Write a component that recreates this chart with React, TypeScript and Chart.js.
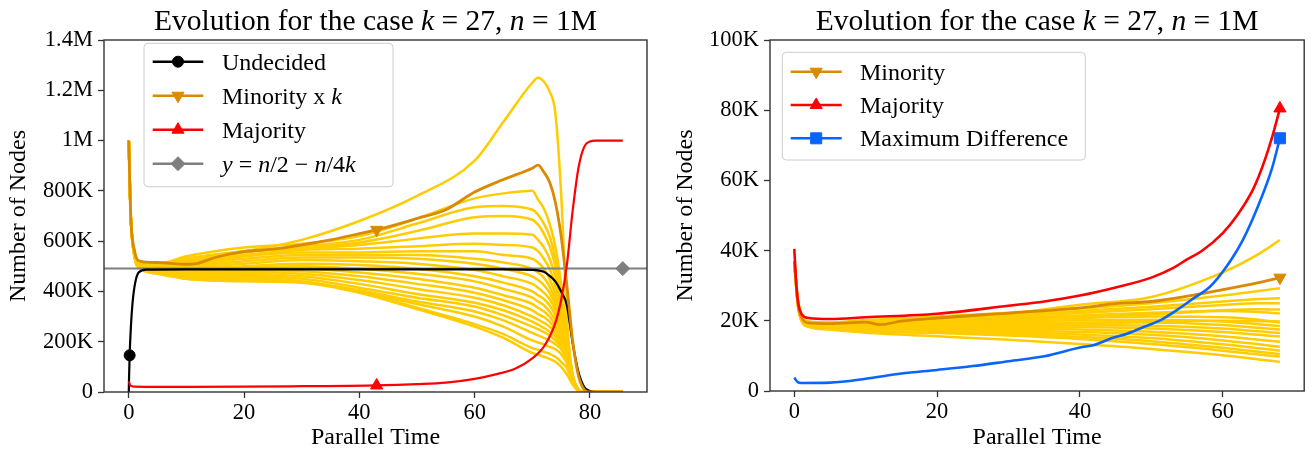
import React, { useEffect, useRef } from 'react';
import { Chart, registerables } from 'chart.js';

Chart.register(...registerables);

// ---------------- DATA (values in thousands of nodes) ----------------
// Left panel: tick values and labels
const leftXTicks = [0, 20, 40, 60, 80];
const leftYTicks = [0, 200, 400, 600, 800, 1000, 1200, 1400];
const leftYTickLabels = ['0', '200K', '400K', '600K', '800K', '1M', '1.2M', '1.4M'];

// Undecided (black)
const leftUndecidedT = [0, 0.05, 0.15, 0.3, 0.6, 1, 1.7, 3, 10, 30, 50, 65, 70, 72, 73, 74, 75, 76, 77, 78, 79, 80, 81, 85.7];
const leftUndecidedV = [0, 60, 146, 230, 340, 420, 475, 487, 488, 488, 488, 488, 486, 478, 462, 440, 400, 345, 195, 80, 20, 4, 0, 0];
const leftUndecidedMarkerT = 0.15;

// Minority x k (dark orange)
const leftMinorityT = [0, 0.3, 1, 2, 5, 10, 12, 15, 20, 25, 30, 35, 40, 43, 50, 55, 60, 65, 70, 71, 72, 73, 74, 75, 76, 77, 78, 79, 80, 85.7];
const leftMinorityV = [1000, 720, 560, 520, 515, 508, 512, 535, 558, 568, 585, 605, 630, 645, 690, 725, 795, 845, 890, 902, 875, 835, 755, 620, 425, 205, 65, 10, 0, 0];
const leftMinorityMarkerT = 43;

// Majority (red)
const leftMajorityT = [0, 0.3, 1, 5, 10, 20, 30, 43, 50, 55, 60, 64, 67, 70, 72, 74, 75, 76, 77, 78, 79, 80, 81, 85.7];
const leftMajorityV = [42, 25, 21, 20, 20, 21, 23, 26, 31, 37, 52, 72, 92, 134, 180, 275, 365, 505, 720, 890, 975, 996, 1000, 1000];
const leftMajorityMarkerT = 43;

// y = n/2 - n/4k guide (grey)
const leftGuideT = [-10, 85.7, 100];
const leftGuideV = [490.7, 490.7, 490.7];
const leftGuideMarkerT = 85.7;

// Individual minority runs x k (yellow)
const leftRunT = [0, 0.3, 1, 2, 5, 10, 20, 30, 40, 50, 60, 65, 70, 71, 72, 73, 74, 75, 76, 77, 78, 79, 80, 85.7];
const leftRunA = [1000, 720, 555, 515, 505, 530, 560, 605, 680, 780, 920, 1075, 1230, 1250, 1235, 1195, 1110, 790, 300, 60, 5, 0, 0, 0];
const leftRunB = [1000, 720, 560, 520, 510, 540, 575, 590, 620, 690, 770, 790, 800, 765, 730, 670, 580, 430, 230, 70, 10, 0, 0, 0];
const leftRunC = [1000, 720, 558, 515, 505, 525, 560, 580, 605, 670, 735, 740, 725, 705, 670, 620, 530, 400, 220, 70, 10, 0, 0, 0];
const leftRunD = [1000, 720, 556, 510, 500, 520, 555, 575, 595, 640, 695, 700, 685, 665, 630, 580, 500, 380, 210, 65, 10, 0, 0, 0];
const leftRunE = [1000, 720, 557, 512, 505, 530, 560, 570, 585, 610, 630, 630, 625, 605, 575, 530, 460, 350, 200, 60, 10, 0, 0, 0];
const leftRunF = [1000, 720, 553, 508, 500, 515, 545, 565, 570, 580, 590, 585, 575, 560, 530, 490, 420, 320, 190, 60, 10, 0, 0, 0];
const leftRunG = [1000, 720, 550, 505, 498, 510, 540, 555, 555, 560, 560, 545, 530, 515, 490, 450, 390, 300, 180, 60, 8, 0, 0, 0];
const leftRunH = [1000, 720, 550, 505, 495, 505, 530, 545, 545, 545, 530, 515, 490, 475, 455, 420, 365, 285, 175, 60, 8, 0, 0, 0];
const leftRunI = [1000, 720, 550, 505, 495, 500, 520, 535, 535, 530, 510, 490, 460, 445, 425, 395, 345, 275, 170, 55, 8, 0, 0, 0];
const leftRunJ = [1000, 720, 548, 502, 492, 495, 510, 525, 520, 510, 485, 460, 430, 415, 395, 370, 325, 260, 165, 55, 8, 0, 0, 0];
const leftRunK = [1000, 720, 546, 500, 490, 490, 500, 510, 505, 490, 460, 435, 400, 385, 370, 345, 305, 245, 160, 55, 8, 0, 0, 0];
const leftRunL = [1000, 720, 546, 500, 488, 485, 495, 500, 490, 470, 440, 410, 375, 360, 345, 320, 285, 235, 155, 55, 8, 0, 0, 0];
const leftRunM = [1000, 720, 544, 498, 485, 480, 490, 490, 475, 450, 415, 385, 350, 335, 320, 300, 265, 220, 150, 55, 8, 0, 0, 0];
const leftRunN = [1000, 720, 544, 498, 485, 478, 485, 480, 460, 430, 395, 365, 325, 310, 298, 280, 250, 210, 145, 50, 8, 0, 0, 0];
const leftRunO = [1000, 720, 542, 496, 483, 475, 478, 470, 445, 410, 375, 345, 300, 288, 275, 260, 235, 200, 140, 50, 8, 0, 0, 0];
const leftRunP = [1000, 720, 542, 496, 482, 470, 470, 460, 430, 390, 355, 325, 280, 268, 255, 240, 220, 190, 135, 50, 8, 0, 0, 0];
const leftRunQ = [1000, 720, 540, 495, 480, 465, 462, 450, 415, 375, 340, 305, 260, 250, 238, 225, 205, 180, 130, 50, 8, 0, 0, 0];
const leftRunR = [1000, 720, 540, 495, 480, 460, 455, 440, 405, 360, 320, 285, 235, 225, 215, 205, 190, 170, 125, 50, 8, 0, 0, 0];
const leftRunS = [1000, 720, 538, 494, 478, 455, 448, 440, 400, 350, 300, 260, 205, 197, 190, 180, 170, 150, 115, 45, 8, 0, 0, 0];
const leftRunTT = [1000, 720, 538, 493, 476, 450, 442, 437, 398, 335, 270, 230, 175, 168, 160, 152, 140, 120, 95, 40, 6, 0, 0, 0];
const leftRunU = [1000, 720, 536, 490, 470, 450, 440, 435, 395, 330, 260, 215, 155, 148, 140, 132, 120, 100, 70, 30, 5, 0, 0, 0];
const leftRuns = [leftRunA, leftRunB, leftRunC, leftRunD, leftRunE, leftRunF, leftRunG, leftRunH, leftRunI, leftRunJ, leftRunK,
  leftRunL, leftRunM, leftRunN, leftRunO, leftRunP, leftRunQ, leftRunR, leftRunS, leftRunTT, leftRunU];

// Right panel
const rightXTicks = [0, 20, 40, 60];
const rightYTicks = [0, 20, 40, 60, 80, 100];
const rightYTickLabels = ['0', '20K', '40K', '60K', '80K', '100K'];

const rightMinorityT = [0, 0.5, 1, 2, 5, 10, 12, 15, 20, 30, 40, 45, 50, 55, 60, 65, 68];
const rightMinorityV = [37, 25, 21, 19.4, 19.2, 19.6, 18.9, 19.9, 20.8, 22.2, 23.7, 24.9, 25.5, 27, 28.9, 30.9, 32.3];

const rightMajorityT = [0, 0.3, 0.6, 1, 2, 5, 10, 20, 30, 35, 40, 45, 50, 53, 55, 57, 60, 62, 64, 65, 66, 67, 68];
const rightMajorityV = [40.5, 30, 24.5, 22, 20.8, 20.5, 21, 22, 24.3, 25.5, 27.2, 29.5, 32.3, 35, 37.5, 39.8, 45, 50, 56.5, 61, 66.5, 73, 80.5];

const rightDiffT = [0, 0.5, 1, 5, 10, 15, 20, 25, 30, 35, 40, 42, 44.4, 46.7, 49, 51.3, 53.6, 55.9, 58.2, 60.5, 62.8, 65.1, 66.9, 68];
const rightDiffV = [3.8, 2.5, 2.3, 2.4, 3.5, 5, 6, 7.1, 8.5, 9.9, 12.4, 13.1, 15, 16.4, 18.3, 20.2, 23.1, 26.4, 29.7, 35.4, 43, 53.5, 63.5, 72];

const rightRunT = [0, 0.5, 1, 2, 5, 10, 20, 30, 40, 50, 60, 65, 68];
const rightRun01 = [37, 26, 21.8, 19.8, 19.5, 20.0, 20.8, 22.0, 24.6, 26.8, 33.8, 39.0, 43.0];
const rightRun02 = [37, 26, 21.6, 19.6, 19.5, 20.2, 21.2, 22.3, 23.5, 25.0, 27.2, 28.5, 29.3];
const rightRun03 = [37, 25.8, 21.4, 19.4, 19.2, 19.8, 20.8, 21.8, 22.8, 24.0, 25.5, 26.2, 26.4];
const rightRun04 = [37, 25.6, 21.2, 19.3, 19.0, 19.5, 20.5, 21.3, 22.2, 23.3, 24.5, 25.0, 25.0];
const rightRun05 = [37, 25.5, 21.1, 19.2, 18.8, 19.2, 20.0, 20.8, 21.5, 22.3, 22.8, 22.5, 22.1];
const rightRun06 = [37, 25.4, 21.0, 19.1, 18.6, 18.9, 19.6, 20.2, 20.8, 21.2, 21.0, 20.3, 19.5];
const rightRun07 = [37, 25.3, 20.9, 19.0, 18.5, 18.6, 19.2, 19.7, 20.2, 20.3, 19.8, 19.0, 18.5];
const rightRun08 = [37, 25.2, 20.8, 18.9, 18.4, 18.4, 18.9, 19.2, 19.5, 19.5, 18.8, 18.0, 17.5];
const rightRun09 = [37, 25.1, 20.7, 18.8, 18.3, 18.2, 18.5, 18.7, 18.8, 18.6, 17.8, 17.0, 16.5];
const rightRun10 = [37, 25.0, 20.6, 18.7, 18.2, 18.0, 18.2, 18.3, 18.2, 17.8, 16.8, 16.0, 15.5];
const rightRun11 = [37, 24.9, 20.5, 18.6, 18.1, 17.8, 17.8, 17.8, 17.5, 16.9, 15.6, 14.6, 14.0];
const rightRun12 = [37, 24.8, 20.4, 18.6, 18.0, 17.6, 17.5, 17.3, 16.8, 16.0, 14.4, 13.3, 12.6];
const rightRun13 = [37, 24.7, 20.3, 18.5, 17.9, 17.4, 17.2, 16.8, 16.1, 15.1, 13.3, 12.2, 11.5];
const rightRun14 = [37, 24.6, 20.2, 18.4, 17.8, 17.2, 16.8, 16.3, 15.4, 14.2, 12.3, 11.2, 10.5];
const rightRun15 = [37, 24.5, 20.1, 18.4, 17.7, 17.0, 16.5, 15.8, 14.8, 13.4, 11.5, 10.4, 9.8];
const rightRun16 = [37, 24.4, 20.0, 18.3, 17.5, 16.6, 15.6, 14.6, 13.4, 12.0, 10.2, 9.0, 8.3];
const rightRun17 = [37, 25.2, 20.9, 18.5, 18.0, 17.9, 18.4, 18.9, 19.3, 19.8, 20.0, 19.9, 19.8];
const rightRun18 = [37, 25.5, 21.2, 19.0, 18.6, 18.8, 19.5, 20.3, 21.0, 21.8, 23.0, 23.3, 23.2];
const rightRuns = [rightRun01, rightRun02, rightRun03, rightRun04, rightRun05, rightRun06, rightRun07, rightRun08, rightRun09,
  rightRun10, rightRun11, rightRun12, rightRun13, rightRun14, rightRun15, rightRun16, rightRun17, rightRun18];

// ---------------- STYLE ----------------
const FONT = '"Liberation Serif", "Times New Roman", serif';
const C_UNDECIDED = '#000000';
const C_MINORITY = '#d98a00';
const C_MAJORITY = '#ff0000';
const C_GUIDE = '#7f7f7f';
const C_RUN = '#ffcc00';
const C_DIFF = '#0a64ff';
const C_SPINE = '#333333';
const TICK_SIZE = 22.5;
const AXIS_TITLE_SIZE = 24;
const LEGEND_SIZE = 24;
const TITLE_SIZE = 29.5;

type Seg = [string, boolean];
type MarkerStyle = 'circle' | 'triUp' | 'triDown' | 'diamond' | 'square';

function drawRich(ctx: CanvasRenderingContext2D, segs: Seg[], x: number, y: number, size: number, align: 'left' | 'center') {
  const fN = `${size}px ${FONT}`;
  const fI = `italic ${size}px ${FONT}`;
  let total = 0;
  for (const [t, it] of segs) { ctx.font = it ? fI : fN; total += ctx.measureText(t).width; }
  let cx = align === 'center' ? x - total / 2 : x;
  ctx.textAlign = 'left';
  ctx.textBaseline = 'alphabetic';
  for (const [t, it] of segs) {
    ctx.font = it ? fI : fN;
    ctx.fillText(t, cx, y);
    cx += ctx.measureText(t).width;
  }
}

function drawMarker(ctx: CanvasRenderingContext2D, style: MarkerStyle, x: number, y: number, r: number, color: string) {
  ctx.save();
  ctx.fillStyle = color;
  ctx.strokeStyle = color;
  ctx.lineWidth = 1;
  ctx.beginPath();
  if (style === 'circle') ctx.arc(x, y, r, 0, Math.PI * 2);
  else if (style === 'triUp') { ctx.moveTo(x, y - r); ctx.lineTo(x + r * 0.866, y + r * 0.5); ctx.lineTo(x - r * 0.866, y + r * 0.5); ctx.closePath(); }
  else if (style === 'triDown') { ctx.moveTo(x, y + r); ctx.lineTo(x + r * 0.866, y - r * 0.5); ctx.lineTo(x - r * 0.866, y - r * 0.5); ctx.closePath(); }
  else if (style === 'diamond') { ctx.moveTo(x, y - r); ctx.lineTo(x + r, y); ctx.lineTo(x, y + r); ctx.lineTo(x - r, y); ctx.closePath(); }
  else { const s = r * 0.7071; ctx.rect(x - s, y - s, 2 * s, 2 * s); }
  ctx.fill();
  ctx.stroke();
  ctx.restore();
}

const chartStyleFor: Record<MarkerStyle, { pointStyle: string; rotation: number }> = {
  circle: { pointStyle: 'circle', rotation: 0 },
  triUp: { pointStyle: 'triangle', rotation: 0 },
  triDown: { pointStyle: 'triangle', rotation: 180 },
  diamond: { pointStyle: 'rectRot', rotation: 0 },
  square: { pointStyle: 'rect', rotation: 0 },
};

function lineDs(T: number[], V: number[], color: string, width: number, order: number,
  marker?: { t: number; style: MarkerStyle; r: number }) {
  const mi = marker ? T.indexOf(marker.t) : -1;
  const st = marker ? chartStyleFor[marker.style] : chartStyleFor.circle;
  return {
    type: 'line' as const,
    data: T.map((t, i) => ({ x: t, y: V[i] })),
    borderColor: color,
    backgroundColor: color,
    borderWidth: width,
    pointRadius: (c: any) => (c.dataIndex === mi ? (marker ? marker.r : 0) : 0),
    pointStyle: st.pointStyle,
    pointRotation: st.rotation,
    pointBackgroundColor: color,
    pointBorderColor: color,
    pointBorderWidth: 1,
    cubicInterpolationMode: 'monotone' as const,
    borderJoinStyle: 'round' as const,
    fill: false,
    order,
  };
}

interface LegendItem { label: Seg[]; color: string; width: number; marker: MarkerStyle; r: number; }
interface LegendSpec { dx: number; dy: number; w: number; h: number; firstRow: number; rowGap: number; hx0: number; hx1: number; textX: number; size: number; shift: number; items: LegendItem[]; }

function decoPlugin(title: Seg[], legend: LegendSpec) {
  return {
    id: 'deco',
    afterDraw(chart: any) {
      const ctx: CanvasRenderingContext2D = chart.ctx;
      const ca = chart.chartArea;
      ctx.save();
      // spines
      ctx.strokeStyle = C_SPINE;
      ctx.lineWidth = 1.4;
      ctx.strokeRect(ca.left, ca.top, ca.right - ca.left, ca.bottom - ca.top);
      // legend box
      const bx = ca.left + legend.dx, by = ca.top + legend.dy, r = 4;
      ctx.beginPath();
      ctx.moveTo(bx + r, by);
      ctx.lineTo(bx + legend.w - r, by);
      ctx.quadraticCurveTo(bx + legend.w, by, bx + legend.w, by + r);
      ctx.lineTo(bx + legend.w, by + legend.h - r);
      ctx.quadraticCurveTo(bx + legend.w, by + legend.h, bx + legend.w - r, by + legend.h);
      ctx.lineTo(bx + r, by + legend.h);
      ctx.quadraticCurveTo(bx, by + legend.h, bx, by + legend.h - r);
      ctx.lineTo(bx, by + r);
      ctx.quadraticCurveTo(bx, by, bx + r, by);
      ctx.closePath();
      ctx.fillStyle = 'rgba(255,255,255,0.8)';
      ctx.fill();
      ctx.strokeStyle = '#cccccc';
      ctx.lineWidth = 1;
      ctx.stroke();
      legend.items.forEach((it, i) => {
        const cy = by + legend.firstRow + i * legend.rowGap;
        ctx.strokeStyle = it.color;
        ctx.lineWidth = it.width;
        ctx.beginPath();
        ctx.moveTo(bx + legend.hx0, cy);
        ctx.lineTo(bx + legend.hx1, cy);
        ctx.stroke();
        drawMarker(ctx, it.marker, bx + (legend.hx0 + legend.hx1) / 2, cy, it.r, it.color);
        ctx.fillStyle = '#000';
        drawRich(ctx, it.label, bx + legend.textX, cy + legend.shift, legend.size, 'left');
      });
      // title
      ctx.fillStyle = '#000';
      drawRich(ctx, title, (ca.left + ca.right) / 2, 29.5, TITLE_SIZE, 'center');
      ctx.restore();
    },
  };
}

function xScaleCfg(min: number, max: number, ticks: number[], height: number) {
  return {
    type: 'linear' as const,
    min, max,
    afterBuildTicks: (s: any) => { s.ticks = ticks.map((v) => ({ value: v })); },
    afterFit: (s: any) => { s.height = height; },
    grid: { display: true, drawOnChartArea: false, drawTicks: true, tickLength: 6, tickWidth: 1.3, tickColor: C_SPINE, color: C_SPINE },
    border: { display: false },
    ticks: { padding: 2, color: '#000', font: { family: FONT, size: TICK_SIZE }, maxRotation: 0, autoSkip: false, callback: (v: any) => String(v) },
    title: { display: true, text: 'Parallel Time', color: '#000', font: { family: FONT, size: AXIS_TITLE_SIZE }, padding: { top: 0, bottom: -1 } },
  };
}

function yScaleCfg(max: number, ticks: number[], labels: string[], width: number, titlePad: number) {
  return {
    type: 'linear' as const,
    min: 0, max,
    afterBuildTicks: (s: any) => { s.ticks = ticks.map((v) => ({ value: v })); },
    afterFit: (s: any) => { s.width = width; },
    grid: { display: true, drawOnChartArea: false, drawTicks: true, tickLength: 6, tickWidth: 1.3, tickColor: C_SPINE, color: C_SPINE },
    border: { display: false },
    ticks: { padding: 5, color: '#000', font: { family: FONT, size: TICK_SIZE }, autoSkip: false, callback: (v: any) => { const i = ticks.indexOf(v); return i >= 0 ? labels[i] : ''; } },
    title: { display: true, text: 'Number of Nodes', color: '#000', font: { family: FONT, size: AXIS_TITLE_SIZE }, padding: { top: titlePad, bottom: 0 } },
  };
}

const titleSegs: Seg[] = [['Evolution for the case ', false], ['k', true], [' = 27, ', false], ['n', true], [' = 1M', false]];

function leftConfig(): any {
  const datasets: any[] = [];
  leftRuns.forEach((run) => datasets.push(lineDs(leftRunT, run, C_RUN, 2.5, 10)));
  datasets.push(lineDs(leftGuideT, leftGuideV, C_GUIDE, 2, 6, { t: leftGuideMarkerT, style: 'diamond', r: 7 }));
  datasets.push(lineDs(leftUndecidedT, leftUndecidedV, C_UNDECIDED, 2.2, 5, { t: leftUndecidedMarkerT, style: 'circle', r: 5.5 }));
  datasets.push(lineDs(leftMinorityT, leftMinorityV, C_MINORITY, 2.8, 4, { t: leftMinorityMarkerT, style: 'triDown', r: 7 }));
  datasets.push(lineDs(leftMajorityT, leftMajorityV, C_MAJORITY, 2.2, 3, { t: leftMajorityMarkerT, style: 'triUp', r: 7 }));
  const legend: LegendSpec = {
    dx: 40, dy: 3.3, w: 249, h: 143.5, firstRow: 18.4, rowGap: 34, hx0: 8.7, hx1: 59.3, textX: 78, size: LEGEND_SIZE, shift: 8,
    items: [
      { label: [['Undecided', false]], color: C_UNDECIDED, width: 2.5, marker: 'circle', r: 5.5 },
      { label: [['Minority x ', false], ['k', true]], color: C_MINORITY, width: 2.5, marker: 'triDown', r: 7 },
      { label: [['Majority', false]], color: C_MAJORITY, width: 2.5, marker: 'triUp', r: 7 },
      { label: [['y', true], [' = ', false], ['n', true], ['/2 \u2212 ', false], ['n', true], ['/4', false], ['k', true]], color: C_GUIDE, width: 2.5, marker: 'diamond', r: 7 },
    ],
  };
  return {
    type: 'line',
    data: { datasets },
    options: {
      animation: false, responsive: false, maintainAspectRatio: false, events: [],
      layout: { padding: { left: 0, right: 13, top: 40, bottom: 0 } },
      plugins: { legend: { display: false }, tooltip: { enabled: false }, title: { display: false } },
      scales: { x: xScaleCfg(-4.3, 89.9, leftXTicks, 59), y: yScaleCfg(1400, leftYTicks, leftYTickLabels, 104, 4) },
    },
    plugins: [decoPlugin(titleSegs, legend)],
  };
}

function rightConfig(): any {
  const datasets: any[] = [];
  rightRuns.forEach((run) => datasets.push(lineDs(rightRunT, run, C_RUN, 2.5, 10)));
  const lastT = rightMinorityT[rightMinorityT.length - 1];
  datasets.push(lineDs(rightMinorityT, rightMinorityV, C_MINORITY, 2.8, 5, { t: lastT, style: 'triDown', r: 7 }));
  datasets.push(lineDs(rightDiffT, rightDiffV, C_DIFF, 2.6, 4, { t: rightDiffT[rightDiffT.length - 1], style: 'square', r: 7.8 }));
  datasets.push(lineDs(rightMajorityT, rightMajorityV, C_MAJORITY, 2.6, 3, { t: rightMajorityT[rightMajorityT.length - 1], style: 'triUp', r: 7 }));
  const legend: LegendSpec = {
    dx: 12.3, dy: 12.3, w: 303, h: 107.7, firstRow: 19.4, rowGap: 33.3, hx0: 8.4, hx1: 59.4, textX: 77.7, size: LEGEND_SIZE, shift: 8,
    items: [
      { label: [['Minority', false]], color: C_MINORITY, width: 2.5, marker: 'triDown', r: 7 },
      { label: [['Majority', false]], color: C_MAJORITY, width: 2.5, marker: 'triUp', r: 7 },
      { label: [['Maximum Difference', false]], color: C_DIFF, width: 2.5, marker: 'square', r: 7.8 },
    ],
  };
  return {
    type: 'line',
    data: { datasets },
    options: {
      animation: false, responsive: false, maintainAspectRatio: false, events: [],
      layout: { padding: { left: 0, right: 1, top: 40, bottom: 0 } },
      plugins: { legend: { display: false }, tooltip: { enabled: false }, title: { display: false } },
      scales: { x: xScaleCfg(-3.4, 71.4, rightXTicks, 60), y: yScaleCfg(100, rightYTicks, rightYTickLabels, 110, 11) },
    },
    plugins: [decoPlugin(titleSegs, legend)],
  };
}

function Panel({ left, width, makeConfig }: { left: number; width: number; makeConfig: () => any }) {
  const ref = useRef<HTMLCanvasElement>(null);
  useEffect(() => {
    if (!ref.current) return;
    const chart = new Chart(ref.current, makeConfig());
    return () => chart.destroy();
  }, [makeConfig]);
  return (
    <canvas ref={ref} width={width} height={451}
      style={{ position: 'absolute', left, top: 0, width, height: 451, display: 'block' }} />
  );
}

export default function App() {
  return (
    <div style={{ position: 'absolute', left: 0, top: 0, width: 1313, height: 451, background: '#fff', overflow: 'hidden' }}>
      <Panel left={0} width={660} makeConfig={leftConfig} />
      <Panel left={660} width={653} makeConfig={rightConfig} />
    </div>
  );
}
